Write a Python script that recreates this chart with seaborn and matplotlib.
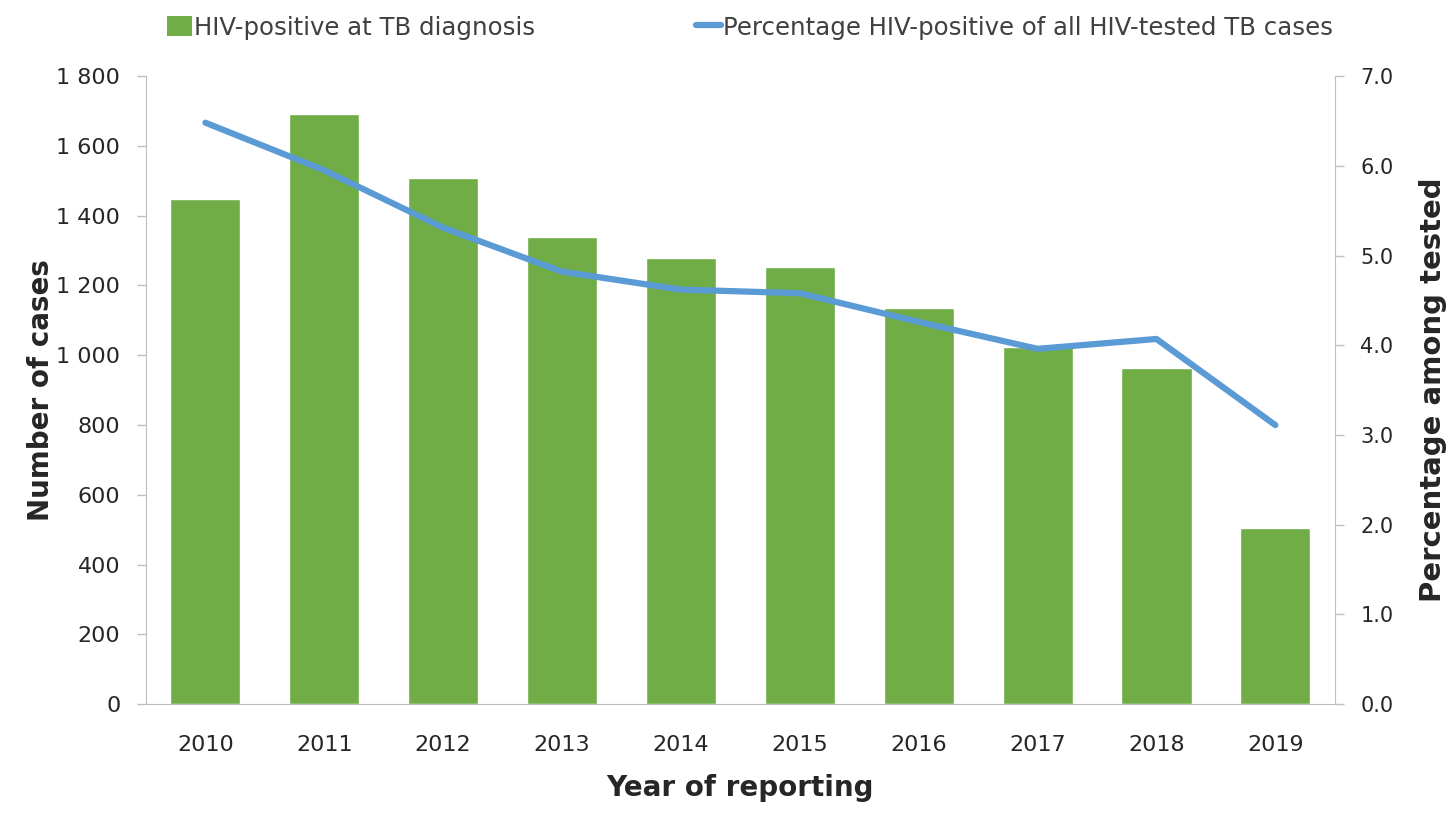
import numpy as np
import pandas as pd
import seaborn as sns
from matplotlib import pyplot as plt
from matplotlib.ticker import FuncFormatter, FixedLocator
from matplotlib.patches import Patch
from matplotlib.lines import Line2D

# data
years = ["2010", "2011", "2012", "2013", "2014", "2015", "2016", "2017", "2018", "2019"]
hiv_pos_cases = [1447, 1691, 1508, 1338, 1278, 1253, 1136, 1023, 963, 505]
pct_hiv_pos = [6.48, 5.95, 5.31, 4.82, 4.62, 4.58, 4.26, 3.96, 4.07, 3.11]

bar_color = "#70AD47"
line_color = "#5B9BD5"
spine_color = "#BFBFBF"
text_color = "#262626"

df = pd.DataFrame({"year": years, "cases": hiv_pos_cases, "pct": pct_hiv_pos})
df["pos"] = np.arange(len(df))

sns.set_style("white")
plt.rcParams["font.family"] = ["DejaVu Sans"]

fig = plt.figure(figsize=(14.54, 8.15), dpi=100)
ax = fig.add_axes([0.1004, 0.136, 0.8176, 0.7707])

sns.barplot(data=df, x="year", y="cases", color=bar_color, width=0.59,
            saturation=1, ax=ax)
ax.set_xlim(-0.5, len(years) - 0.5)
ax.set_ylim(0, 1800)
ax.set_yticks(np.arange(0, 1801, 200))
ax.yaxis.set_major_formatter(FuncFormatter(lambda v, p: f"{int(v):,}".replace(",", " ")))

# tick marks between categories, like the original
ax.xaxis.set_minor_locator(FixedLocator(np.arange(-0.5, len(years), 1.0)))
ax.tick_params(axis="x", which="major", length=0, pad=22, labelsize=16, labelcolor=text_color)
ax.tick_params(axis="x", which="minor", length=6.5, width=1, color=spine_color, direction="out")
ax.tick_params(axis="y", length=6.5, width=1, color=spine_color, direction="out",
               labelsize=16, labelcolor=text_color, pad=12)

ax.set_xlabel("Year of reporting", fontsize=20, fontweight="bold",
              color=text_color, labelpad=14)
ax.set_ylabel("Number of cases", fontsize=20, fontweight="bold",
              color=text_color, labelpad=1)

for side in ["top", "right"]:
    ax.spines[side].set_visible(False)
for side in ["left", "bottom"]:
    ax.spines[side].set_color(spine_color)

ax2 = ax.twinx()
sns.lineplot(data=df, x="pos", y="pct", color=line_color, linewidth=4.5, ax=ax2)
ax2.set_xlim(-0.5, len(years) - 0.5)
ax2.set_ylim(0, 7)
ax2.set_yticks(np.arange(0, 7.1, 1))
ax2.yaxis.set_major_formatter(FuncFormatter(lambda v, p: f"{v:.1f}"))
ax2.tick_params(axis="y", length=6.5, width=1, color=spine_color, direction="out",
                labelsize=15, labelcolor=text_color, pad=12)
ax2.set_ylabel("Percentage among tested", fontsize=21, fontweight="bold",
               color=text_color, labelpad=18)
for side in ["top", "left", "bottom"]:
    ax2.spines[side].set_visible(False)
ax2.spines["right"].set_color(spine_color)

handles = [Patch(facecolor=bar_color, edgecolor="none"),
           Line2D([0], [0], color=line_color, linewidth=4.5)]
labels = ["HIV-positive at TB diagnosis", "Percentage HIV-positive of all HIV-tested TB cases"]
leg = fig.legend(handles, labels, loc="center", bbox_to_anchor=(0.516, 0.966), ncol=2,
                 frameon=False, handlelength=1.0, handleheight=0.9, handletextpad=0.1,
                 columnspacing=6.6, prop={"size": 17.6})
for t in leg.get_texts():
    t.set_color("#404040")

fig.savefig("out.png", dpi=100)
